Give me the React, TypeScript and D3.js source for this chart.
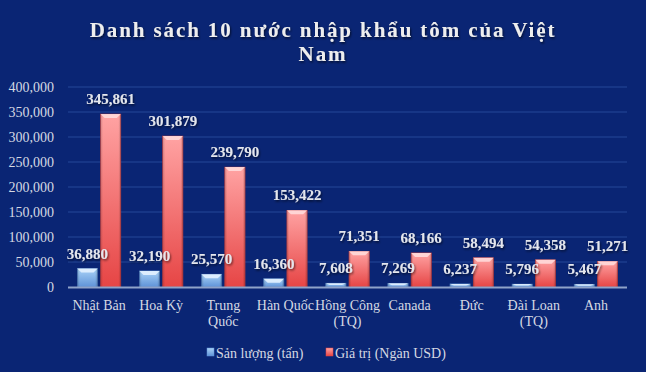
import React, { useEffect, useRef } from 'react';
import * as d3 from 'd3';

const categories = [
  'Nhật Bản',
  'Hoa Kỳ',
  'Trung Quốc',
  'Hàn Quốc',
  'Hồng Công (TQ)',
  'Canada',
  'Đức',
  'Đài Loan (TQ)',
  'Anh',
];
const tickLabels: string[][] = [
  ['Nhật Bản'],
  ['Hoa Kỳ'],
  ['Trung', 'Quốc'],
  ['Hàn Quốc'],
  ['Hồng Công', '(TQ)'],
  ['Canada'],
  ['Đức'],
  ['Đài Loan', '(TQ)'],
  ['Anh'],
];
const sanLuong = [36880, 32190, 25570, 16360, 7608, 7269, 6237, 5796, 5467];
const giaTri = [345861, 301879, 239790, 153422, 71351, 68166, 58494, 54358, 51271];
const seriesNames = ['Sản lượng (tấn)', 'Giá trị (Ngàn USD)'];
const yTicks = [0, 50000, 100000, 150000, 200000, 250000, 300000, 350000, 400000];

const W = 646;
const H = 372;
const FONT = '"Liberation Serif", "DejaVu Serif", serif';

const App: React.FC = () => {
  const svgRef = useRef<SVGSVGElement | null>(null);

  useEffect(() => {
    document.body.style.margin = '0';
    if (!svgRef.current) return;
    const margin = { top: 87, right: 19, bottom: 85, left: 68 };

    const svg = d3.select(svgRef.current);
    svg.selectAll('*').remove();

    const defs = svg.append('defs');
    const mkGrad = (id: string, top: string, bottom: string) => {
      const g = defs
        .append('linearGradient')
        .attr('id', id)
        .attr('x1', 0)
        .attr('y1', 0)
        .attr('x2', 0)
        .attr('y2', 1);
      g.append('stop').attr('offset', '0%').attr('stop-color', top);
      g.append('stop').attr('offset', '100%').attr('stop-color', bottom);
    };
    mkGrad('gBlue', '#a9d2f7', '#5f93d8');
    mkGrad('gRed', '#ffa3a3', '#e64545');
    // darker side edges
    const side = defs
      .append('linearGradient')
      .attr('id', 'gSide')
      .attr('x1', 0)
      .attr('x2', 1);
    side.append('stop').attr('offset', '0%').attr('stop-color', '#000').attr('stop-opacity', 0.18);
    side.append('stop').attr('offset', '12%').attr('stop-color', '#000').attr('stop-opacity', 0);
    side.append('stop').attr('offset', '88%').attr('stop-color', '#000').attr('stop-opacity', 0);
    side.append('stop').attr('offset', '100%').attr('stop-color', '#000').attr('stop-opacity', 0.2);

    const shadow = defs.append('filter').attr('id', 'tshadow').attr('x', '-10%').attr('y', '-30%').attr('width', '120%').attr('height', '160%');
    shadow
      .append('feDropShadow')
      .attr('dx', 1)
      .attr('dy', 1.5)
      .attr('stdDeviation', 1)
      .attr('flood-color', '#000')
      .attr('flood-opacity', 0.6);

    svg.append('rect').attr('width', W).attr('height', H).attr('fill', '#0a2574');

    const x = d3
      .scaleBand<string>()
      .domain(categories)
      .range([margin.left, W - margin.right]);
    const xSub = d3
      .scaleBand<string>()
      .domain(seriesNames)
      .range([0, x.bandwidth()])
      .paddingInner(0.13)
      .paddingOuter(0.4);
    const y = d3
      .scaleLinear()
      .domain([0, 400000])
      .range([H - margin.bottom, margin.top]);

    // grid
    svg
      .append('g')
      .selectAll('line')
      .data(yTicks.slice(1))
      .enter()
      .append('line')
      .attr('x1', margin.left)
      .attr('x2', W - margin.right)
      .attr('y1', (d) => y(d))
      .attr('y2', (d) => y(d))
      .attr('stroke', '#1c3d8c')
      .attr('stroke-width', 1.5);

    // y axis labels
    svg
      .append('g')
      .selectAll('text')
      .data(yTicks)
      .enter()
      .append('text')
      .attr('x', 54)
      .attr('y', (d) => y(d) + 5)
      .attr('text-anchor', 'end')
      .attr('fill', '#d5d9e3')
      .attr('font-family', FONT)
      .attr('font-size', '14px')
      .text((d) => d3.format(',')(d));

    const seriesData = [sanLuong, giaTri];
    const fills = ['url(#gBlue)', 'url(#gRed)'];
    const caps = ['#e3f1ff', '#ffdada'];
    const edges = ['#4a7cc0', '#c73a3a'];
    const bw = xSub.bandwidth();
    const barX = (si: number, i: number) =>
      (x(categories[i]) as number) + (xSub(seriesNames[si]) as number);

    seriesData.forEach((vals, si) => {
      const groups = svg
        .append('g')
        .selectAll('g')
        .data(vals)
        .enter()
        .append('g');
      groups
        .append('rect')
        .attr('x', (_, i) => barX(si, i))
        .attr('y', (d) => y(d))
        .attr('width', bw)
        .attr('height', (d) => y(0) - y(d))
        .attr('fill', fills[si])
        .attr('stroke', edges[si])
        .attr('stroke-width', 0.6);
      groups
        .append('rect')
        .attr('x', (_, i) => barX(si, i))
        .attr('y', (d) => y(d))
        .attr('width', bw)
        .attr('height', (d) => y(0) - y(d))
        .attr('fill', 'url(#gSide)');
      // bevelled top
      groups
        .append('path')
        .attr('d', (d, i) => {
          const x0 = barX(si, i);
          const y0 = y(d);
          const h = Math.min(4, (y(0) - y0) / 2);
          return `M${x0},${y0}L${x0 + bw},${y0}L${x0 + bw - 4},${y0 + h}L${x0 + 4},${y0 + h}Z`;
        })
        .attr('fill', caps[si])
        .attr('opacity', 0.9);
    });

    // x axis line
    svg
      .append('line')
      .attr('x1', margin.left)
      .attr('x2', W - margin.right)
      .attr('y1', y(0) + 0.5)
      .attr('y2', y(0) + 0.5)
      .attr('stroke', '#8fa3c9')
      .attr('stroke-width', 2);

    // value labels, on top of every bar
    seriesData.forEach((vals, si) => {
      svg
        .append('g')
        .selectAll('text')
        .data(vals)
        .enter()
        .append('text')
        .attr('x', (_, i) => barX(si, i) + bw / 2)
        .attr('y', (d) => y(d) - 10)
        .attr('text-anchor', 'middle')
        .attr('fill', '#e4e6ec')
        .attr('font-family', FONT)
        .attr('font-weight', 'bold')
        .attr('font-size', '15px')
        .attr('filter', 'url(#tshadow)')
        .text((d) => d3.format(',')(d));
    });

    // category labels
    const cat = svg
      .append('g')
      .selectAll('text')
      .data(tickLabels)
      .enter()
      .append('text')
      .attr('text-anchor', 'middle')
      .attr('fill', '#d5d9e3')
      .attr('font-family', FONT)
      .attr('font-size', '14px');
    cat
      .selectAll('tspan')
      .data((d, i) => d.map((t) => ({ t, i })))
      .enter()
      .append('tspan')
      .attr('x', (d) => (x(categories[d.i]) as number) + x.bandwidth() / 2)
      .attr('y', (_, j) => 310 + j * 16)
      .text((d) => d.t);

    // title
    const title = svg
      .append('text')
      .attr('text-anchor', 'middle')
      .attr('fill', '#eeeeee')
      .attr('font-family', FONT)
      .attr('font-weight', 'bold')
      .attr('font-size', '21px')
      .attr('letter-spacing', '1.9px')
      .attr('filter', 'url(#tshadow)');
    title.append('tspan').attr('x', W / 2).attr('y', 37).text('Danh sách 10 nước nhập khẩu tôm của Việt');
    title.append('tspan').attr('x', W / 2).attr('y', 61).text('Nam');

    // legend
    const legendX = [207, 326];
    const legendEdge = ['#5f93d8', '#e64545'];
    seriesNames.forEach((name, i) => {
      svg
        .append('rect')
        .attr('x', legendX[i])
        .attr('y', 348)
        .attr('width', 7)
        .attr('height', 8)
        .attr('fill', fills[i])
        .attr('stroke', legendEdge[i])
        .attr('stroke-width', 0.5);
      svg
        .append('text')
        .attr('x', legendX[i] + 9)
        .attr('y', 358)
        .attr('fill', '#d5d9e3')
        .attr('font-family', FONT)
        .attr('font-size', '14px')
        .text(name);
    });
  }, []);

  return <svg ref={svgRef} width={W} height={H} style={{ display: 'block' }} />;
};

export default App;
